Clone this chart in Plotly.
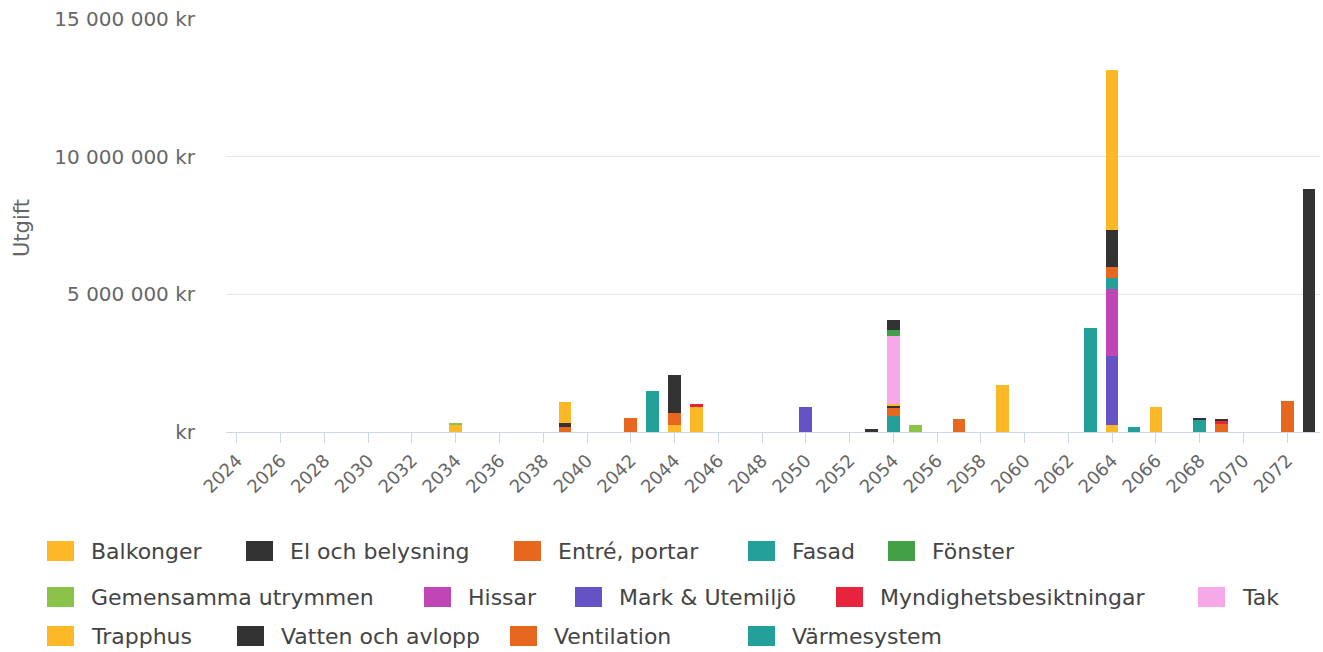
import plotly.graph_objects as go

# Planned maintenance costs per year (kr), one pair of lists per category
years_axis = list(range(2024, 2074))
tick_years = list(range(2024, 2074, 2))

balkonger_years = [2039, 2059, 2064, 2066]
balkonger_values = [760000, 1700000, 5790000, 910000]

el_years = [2039, 2044, 2053, 2054, 2064, 2069]
el_values = [160000, 1370000, 100000, 360000, 1330000, 50000]

entre_years = [2039, 2042, 2044, 2057, 2064]
entre_values = [180000, 520000, 450000, 460000, 410000]

fasad_years = [2043, 2063, 2064, 2065]
fasad_values = [1480000, 3790000, 420000, 180000]

fonster_years = [2054]
fonster_values = [220000]

gemensamma_years = [2034, 2055]
gemensamma_values = [80000, 240000]

hissar_years = [2064]
hissar_values = [2430000]

mark_years = [2050, 2064]
mark_values = [910000, 2510000]

myndighet_years = [2045, 2069]
myndighet_values = [60000, 120000]

tak_years = [2054]
tak_values = [2450000]

trapphus_years = [2034, 2044, 2045, 2054, 2064]
trapphus_values = [240000, 240000, 940000, 60000, 240000]

vatten_years = [2054, 2068, 2073]
vatten_values = [70000, 70000, 8810000]

ventilation_years = [2054, 2069, 2072]
ventilation_values = [330000, 280000, 1130000]

varme_years = [2054, 2068]
varme_values = [570000, 450000]

categories = [
    ("Balkonger", balkonger_years, balkonger_values, "#FDB827"),
    ("El och belysning", el_years, el_values, "#333333"),
    ("Entré, portar", entre_years, entre_values, "#E8671E"),
    ("Fasad", fasad_years, fasad_values, "#23A09A"),
    ("Fönster", fonster_years, fonster_values, "#43A047"),
    ("Gemensamma utrymmen", gemensamma_years, gemensamma_values, "#8BC34A"),
    ("Hissar", hissar_years, hissar_values, "#C046B5"),
    ("Mark & Utemiljö", mark_years, mark_values, "#6552C4"),
    ("Myndighetsbesiktningar", myndighet_years, myndighet_values, "#E8233D"),
    ("Tak", tak_years, tak_values, "#F6A8E8"),
    ("Trapphus", trapphus_years, trapphus_values, "#FDB827"),
    ("Vatten och avlopp", vatten_years, vatten_values, "#333333"),
    ("Ventilation", ventilation_years, ventilation_values, "#E8671E"),
    ("Värmesystem", varme_years, varme_values, "#23A09A"),
]

y_tick_values = [0, 5000000, 10000000, 15000000]
y_tick_labels = ["kr", "5 000 000 kr", "10 000 000 kr", "15 000 000 kr"]

FONT = "DejaVu Sans"
TEXT = "#666666"

fig = go.Figure()

# First category sits on top of each stack, so traces go in reversed order
for name, yrs, vals, color in reversed(categories):
    fig.add_trace(go.Bar(
        x=yrs, y=vals, name=name, width=0.58,
        marker=dict(color=color, line=dict(width=0)),
        showlegend=False,
        hovertemplate="%{x}<br>" + name + ": %{y:,.0f} kr<extra></extra>",
    ))

W, H = 1323, 652
L, R, T, B = 226, 3, 19, 220
plot_w = W - L - R
plot_h = H - T - B

fig.update_layout(
    width=W, height=H,
    margin=dict(l=L, r=R, t=T, b=B),
    barmode="stack",
    plot_bgcolor="white", paper_bgcolor="white",
    font=dict(family=FONT, color=TEXT),
)

fig.update_xaxes(
    range=[2023.5, 2073.5],
    tickmode="array", tickvals=tick_years, ticktext=[str(y) for y in tick_years],
    tickangle=-45,
    tickfont=dict(size=18, color=TEXT, family=FONT),
    ticks="outside", ticklen=10, tickcolor="#ccd6eb",
    showline=True, linecolor="#ccd6eb", linewidth=1,
    showgrid=False, zeroline=False,
)

fig.update_yaxes(
    range=[0, 15000000],
    tickmode="array", tickvals=y_tick_values, ticktext=y_tick_labels,
    tickfont=dict(size=20, color=TEXT, family=FONT),
    ticklabelstandoff=30,
    showgrid=True, gridcolor="#e6e6e6", gridwidth=1,
    zeroline=False, showline=False,
)

# Axis title
fig.add_annotation(
    text="Utgift", textangle=-90,
    xref="paper", yref="paper",
    x=(22 - L) / plot_w, y=(H - B - 228) / plot_h,
    xanchor="center", yanchor="middle", showarrow=False,
    font=dict(size=21, color=TEXT, family=FONT),
)

# Legend drawn as swatches and labels, three rows below the plot
legend_rows = [551, 597, 636]
legend_slots = [
    (0, 47), (0, 246), (0, 514), (0, 748), (0, 888),
    (1, 47), (1, 424), (1, 575), (1, 836), (1, 1198),
    (2, 47), (2, 237), (2, 510), (2, 748),
]

def px_x(px):
    return (px - L) / plot_w

def px_y(py):
    return (H - B - py) / plot_h

for (name, _, _, color), (row, left) in zip(categories, legend_slots):
    cy = legend_rows[row]
    fig.add_shape(
        type="rect", xref="paper", yref="paper",
        x0=px_x(left), x1=px_x(left + 27),
        y0=px_y(cy + 10), y1=px_y(cy - 10),
        fillcolor=color, line=dict(width=0),
    )
    fig.add_annotation(
        text=name, xref="paper", yref="paper",
        x=px_x(left + 42), y=px_y(cy),
        xanchor="left", yanchor="middle", showarrow=False,
        font=dict(size=22, color="#444444", family=FONT),
    )

fig.write_html("out.html")
